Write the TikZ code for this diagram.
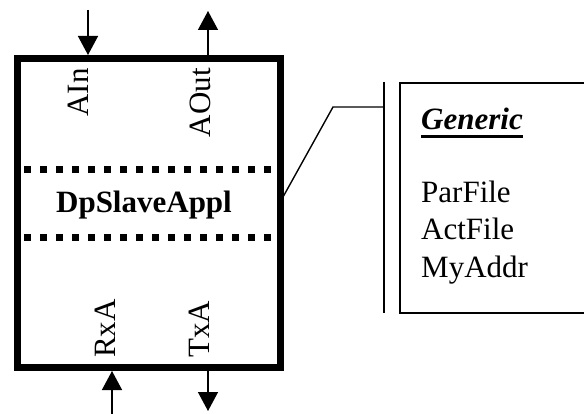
\documentclass[tikz,border=0pt]{standalone}
\usepackage{fontspec}
\setmainfont{Liberation Serif}
\usetikzlibrary{arrows.meta}
\begin{document}
\begin{tikzpicture}[x=1pt,y=-1pt,
  thick box/.style={line width=7pt},
  dotline/.style={line width=7pt,dash pattern=on 7pt off 9pt},
  thinline/.style={line width=1.4pt},
  sig/.style={line width=1.4pt,-{Triangle[length=19pt,width=20pt]}},
  lbl/.style={font=\fontsize{31}{36}\selectfont,inner sep=0pt,rotate=90},
  txt/.style={font=\fontsize{31}{36}\selectfont,inner sep=0pt}]
\useasboundingbox (0,0) rectangle (584,414);
% main box
\draw[thick box] (17,58.5) rectangle (280,367.5);
\coordinate (d1l) at (24,170);
\coordinate (d1r) at (280,170);
\coordinate (d2l) at (24,238);
\coordinate (d2r) at (280,238);
\draw[dotline] (d1l) -- (d1r);
\draw[dotline] (d2l) -- (d2r);
\node[txt,font=\fontsize{31}{36}\selectfont\bfseries,anchor=base] (title) at (144,213) {DpSlaveAppl};
% labels
\node[lbl,anchor=base east] (ain) at (88,68) {AIn};
\node[lbl,anchor=base east] (aout) at (210,68) {AOut};
\node[lbl,anchor=base west] (rxa) at (115,358) {RxA};
\node[lbl,anchor=base west] (txa) at (209,358) {TxA};
% arrows
\coordinate (ain0) at (88,10);
\coordinate (ain1) at (88,55);
\coordinate (aout0) at (208,55);
\coordinate (aout1) at (208,11);
\coordinate (rxa0) at (112,414);
\coordinate (rxa1) at (112,371);
\coordinate (txa0) at (208,371);
\coordinate (txa1) at (208,411);
\draw[sig] (ain0) -- (ain1);
\draw[sig] (aout0) -- (aout1);
\draw[sig] (rxa0) -- (rxa1);
\draw[sig] (txa0) -- (txa1);
% connector
\coordinate (c0) at (283,197);
\coordinate (c1) at (333,107);
\coordinate (c2) at (384,107);
\draw[thinline] (c0) -- (c1) -- (c2);
\coordinate (v0) at (384,82);
\coordinate (v1) at (384,313);
\draw[thinline] (v0) -- (v1);
% generic box
\coordinate (g0) at (585,83);
\coordinate (g1) at (400,83);
\coordinate (g2) at (400,313);
\coordinate (g3) at (585,313);
\draw[thinline] (g0) -- (g1) -- (g2) -- (g3);
\node[txt,anchor=base west,font=\fontsize{31}{36}\selectfont\bfseries\itshape] (gen) at (421,130) {Generic};
\draw[line width=3pt] ([yshift=-6.5pt]gen.base west) -- ([yshift=-6.5pt]gen.base east);
\node[txt,anchor=base west] (p1) at (421,203) {ParFile};
\node[txt,anchor=base west] (p2) at (421,240) {ActFile};
\node[txt,anchor=base west] (p3) at (421,277) {MyAddr};
\end{tikzpicture}
\end{document}
